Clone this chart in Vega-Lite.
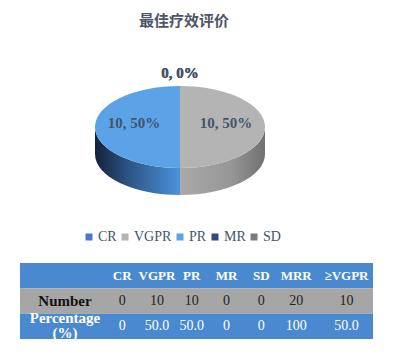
{
  "$schema": "https://vega.github.io/schema/vega-lite/v6.json",
  "padding": {"left": 20, "top": 14, "right": 0, "bottom": 0},
  "background": "white",
  "config": {"view": {"stroke": null}},
  "bounds": "flush",
  "spacing": 52,
  "resolve": {"scale": {"fill": "independent"}, "legend": {"fill": "independent"}},
  "datasets": {
    "pie": [
      {"category": "CR", "count": 0, "pct": 0, "label": "0, 0%", "rank": 1},
      {"category": "VGPR", "count": 10, "pct": 50, "label": "10, 50%", "rank": 2},
      {"category": "PR", "count": 10, "pct": 50, "label": "10, 50%", "rank": 3},
      {"category": "MR", "count": 0, "pct": 0, "label": "0, 0%", "rank": 4},
      {"category": "SD", "count": 0, "pct": 0, "label": "0, 0%", "rank": 5}
    ],
    "rows": [
      {"row": "header", "label": ""},
      {"row": "Number", "label": "Number"},
      {"row": "Percentage", "label": ["Percentage", "(%)"]}
    ],
    "cols": [
      {"col": "CR"}, {"col": "VGPR"}, {"col": "PR"}, {"col": "MR"}, {"col": "SD"}, {"col": "MRR"}, {"col": "≥VGPR"}
    ],
    "cells": [
      {"col": "CR", "row": "Number", "value": "0"},
      {"col": "VGPR", "row": "Number", "value": "10"},
      {"col": "PR", "row": "Number", "value": "10"},
      {"col": "MR", "row": "Number", "value": "0"},
      {"col": "SD", "row": "Number", "value": "0"},
      {"col": "MRR", "row": "Number", "value": "20"},
      {"col": "≥VGPR", "row": "Number", "value": "10"},
      {"col": "CR", "row": "Percentage", "value": "0"},
      {"col": "VGPR", "row": "Percentage", "value": "50.0"},
      {"col": "PR", "row": "Percentage", "value": "50.0"},
      {"col": "MR", "row": "Percentage", "value": "0"},
      {"col": "SD", "row": "Percentage", "value": "0"},
      {"col": "MRR", "row": "Percentage", "value": "100"},
      {"col": "≥VGPR", "row": "Percentage", "value": "50.0"}
    ]
  },
  "vconcat": [
    {
      "title": {"text": "最佳疗效评价", "font": "Noto Sans CJK SC", "fontSize": 15, "fontWeight": "bold", "color": "#4d5566", "anchor": "middle", "dx": 4, "offset": 14},
      "width": 320,
      "height": 168,
      "data": {"name": "pie"},
      "layer": [
        {
          "transform": [{"filter": "datum.category === 'PR'"}],
          "mark": {"type": "point", "filled": true, "opacity": 1, "size": 28900, "strokeWidth": 0,
            "shape": "M-1,0 L-1,0.318 A1,0.482 0 0,0 0,0.8 L0,0.482 A1,0.482 0 0,1 -1,0 Z",
            "fill": {"gradient": "linear", "x1": 0, "y1": 0, "x2": 1, "y2": 0,
              "stops": [{"offset": 0, "color": "#132238"}, {"offset": 0.4, "color": "#2d5585"}, {"offset": 1, "color": "#4b92dc"}]}},
          "encoding": {}
        },
        {
          "transform": [{"filter": "datum.category === 'VGPR'"}],
          "mark": {"type": "point", "filled": true, "opacity": 1, "size": 28900, "strokeWidth": 0,
            "shape": "M1,0 L1,0.318 A1,0.482 0 0,1 0,0.8 L0,0.482 A1,0.482 0 0,0 1,0 Z",
            "fill": {"gradient": "linear", "x1": 0, "y1": 0, "x2": 1, "y2": 0,
              "stops": [{"offset": 0, "color": "#a9a9a9"}, {"offset": 0.6, "color": "#979797"}, {"offset": 1, "color": "#707070"}]}},
          "encoding": {}
        },
        {
          "transform": [{"filter": "datum.count > 0"}],
          "mark": {"type": "point", "filled": true, "opacity": 1, "size": 28900, "strokeWidth": 0},
          "encoding": {
            "fill": {"field": "category", "type": "nominal",
              "scale": {"domain": ["CR", "VGPR", "PR", "MR", "SD"], "range": ["#4778d1", "#b4b4b4", "#5ba3e6", "#2c4a86", "#7a7a7a"]},
              "legend": {"orient": "none", "direction": "horizontal", "legendX": 62, "legendY": 187, "title": null,
                "symbolType": "square", "symbolSize": 49, "symbolStrokeWidth": 0, "labelFont": "Liberation Serif",
                "labelFontSize": 14, "labelColor": "#44546A", "labelOffset": 2, "columnPadding": 1}},
            "shape": {"field": "category", "type": "nominal",
              "scale": {"domain": ["VGPR", "PR"], "range": ["M0,-0.482 A1,0.482 0 0,1 0,0.482 Z", "M0,-0.482 A1,0.482 0 0,0 0,0.482 Z"]},
              "legend": null}
          }
        },
        {
          "transform": [{"filter": "datum.count > 0"}],
          "mark": {"type": "text", "font": "Liberation Serif", "fontSize": 15, "fontWeight": "bold", "color": "#44546A", "dy": -4},
          "encoding": {
            "theta": {"field": "count", "type": "quantitative", "stack": true},
            "radius": {"value": 46},
            "order": {"field": "rank", "type": "quantitative"},
            "detail": {"field": "category", "type": "nominal"},
            "text": {"field": "label", "type": "nominal"}
          }
        },
        {
          "transform": [{"filter": "datum.count === 0"}],
          "mark": {"type": "text", "font": "Liberation Serif", "fontSize": 15, "fontWeight": "bold", "color": "#44546A"},
          "encoding": {
            "theta": {"field": "count", "type": "quantitative", "stack": true},
            "radius": {"value": 54},
            "order": {"field": "rank", "type": "quantitative"},
            "detail": {"field": "category", "type": "nominal"},
            "text": {"field": "label", "type": "nominal"}
          }
        }
      ]
    },
    {
      "spacing": 0,
      "bounds": "flush",
      "hconcat": [
        {
          "width": 82,
          "height": 76,
          "data": {"name": "rows"},
          "layer": [
            {
              "mark": {"type": "rect"},
              "encoding": {
                "y": {"field": "row", "type": "nominal", "scale": {"type": "band", "domain": ["header", "Number", "Percentage"], "paddingInner": 0, "paddingOuter": 0}, "axis": null},
                "fill": {"field": "row", "type": "nominal", "scale": {"domain": ["header", "Number", "Percentage"], "range": ["#4a89cf", "#a6a6a6", "#4a89cf"]}, "legend": null}
              }
            },
            {
              "transform": [{"filter": "datum.row === 'Number'"}],
              "mark": {"type": "text", "font": "Liberation Serif", "fontSize": 15, "fontWeight": "bold", "dx": 4, "color": "#111111"},
              "encoding": {
                "y": {"field": "row", "type": "nominal"},
                "text": {"field": "label"}
              }
            },
            {
              "transform": [{"filter": "datum.row === 'Percentage'"}],
              "mark": {"type": "text", "font": "Liberation Serif", "fontSize": 15, "fontWeight": "bold", "dx": 4, "dy": -8, "lineHeight": 15, "color": "#ffffff"},
              "encoding": {
                "y": {"field": "row", "type": "nominal"},
                "text": {"field": "label"}
              }
            }
          ]
        },
        {
          "width": 218,
          "height": 76,
          "layer": [
            {
              "data": {"name": "rows"},
              "mark": {"type": "rect"},
              "encoding": {
                "y": {"field": "row", "type": "nominal", "scale": {"type": "band", "domain": ["header", "Number", "Percentage"], "paddingInner": 0, "paddingOuter": 0}, "axis": null},
                "fill": {"field": "row", "type": "nominal", "scale": {"domain": ["header", "Number", "Percentage"], "range": ["#4a89cf", "#a6a6a6", "#4a89cf"]}, "legend": null}
              }
            },
            {
              "data": {"name": "cols"},
              "transform": [{"filter": "datum.col !== '≥VGPR'"}],
              "mark": {"type": "text", "font": "Liberation Serif", "fontSize": 13, "fontWeight": "bold", "color": "#ffffff"},
              "encoding": {
                "x": {"field": "col", "type": "nominal", "scale": {"type": "band", "domain": ["CR", "VGPR", "PR", "MR", "SD", "MRR"], "paddingInner": 0, "paddingOuter": 0.132, "align": 0.3}, "axis": null},
                "y": {"datum": "header", "type": "nominal"},
                "text": {"field": "col"}
              }
            },
            {
              "data": {"name": "cells"},
              "transform": [{"filter": "datum.col !== '≥VGPR'"}],
              "mark": {"type": "text", "font": "Liberation Serif", "fontSize": 14},
              "encoding": {
                "x": {"field": "col", "type": "nominal"},
                "y": {"field": "row", "type": "nominal"},
                "text": {"field": "value"},
                "color": {"condition": {"test": "datum.row === 'Number'", "value": "#222222"}, "value": "#ffffff"}
              }
            }
          ]
        },
        {
          "width": 53,
          "height": 76,
          "layer": [
            {
              "data": {"name": "rows"},
              "mark": {"type": "rect"},
              "encoding": {
                "y": {"field": "row", "type": "nominal", "scale": {"type": "band", "domain": ["header", "Number", "Percentage"], "paddingInner": 0, "paddingOuter": 0}, "axis": null},
                "fill": {"field": "row", "type": "nominal", "scale": {"domain": ["header", "Number", "Percentage"], "range": ["#4a89cf", "#a6a6a6", "#4a89cf"]}, "legend": null}
              }
            },
            {
              "data": {"name": "cols"},
              "transform": [{"filter": "datum.col === '≥VGPR'"}],
              "mark": {"type": "text", "font": "Liberation Serif", "fontSize": 13, "fontWeight": "bold", "color": "#ffffff"},
              "encoding": {
                "x": {"field": "col", "type": "nominal", "scale": {"type": "band", "paddingInner": 0, "paddingOuter": 0}, "axis": null},
                "y": {"datum": "header", "type": "nominal"},
                "text": {"field": "col"}
              }
            },
            {
              "data": {"name": "cells"},
              "transform": [{"filter": "datum.col === '≥VGPR'"}],
              "mark": {"type": "text", "font": "Liberation Serif", "fontSize": 14},
              "encoding": {
                "x": {"field": "col", "type": "nominal"},
                "y": {"field": "row", "type": "nominal"},
                "text": {"field": "value"},
                "color": {"condition": {"test": "datum.row === 'Number'", "value": "#222222"}, "value": "#ffffff"}
              }
            }
          ]
        }
      ]
    }
  ]
}
